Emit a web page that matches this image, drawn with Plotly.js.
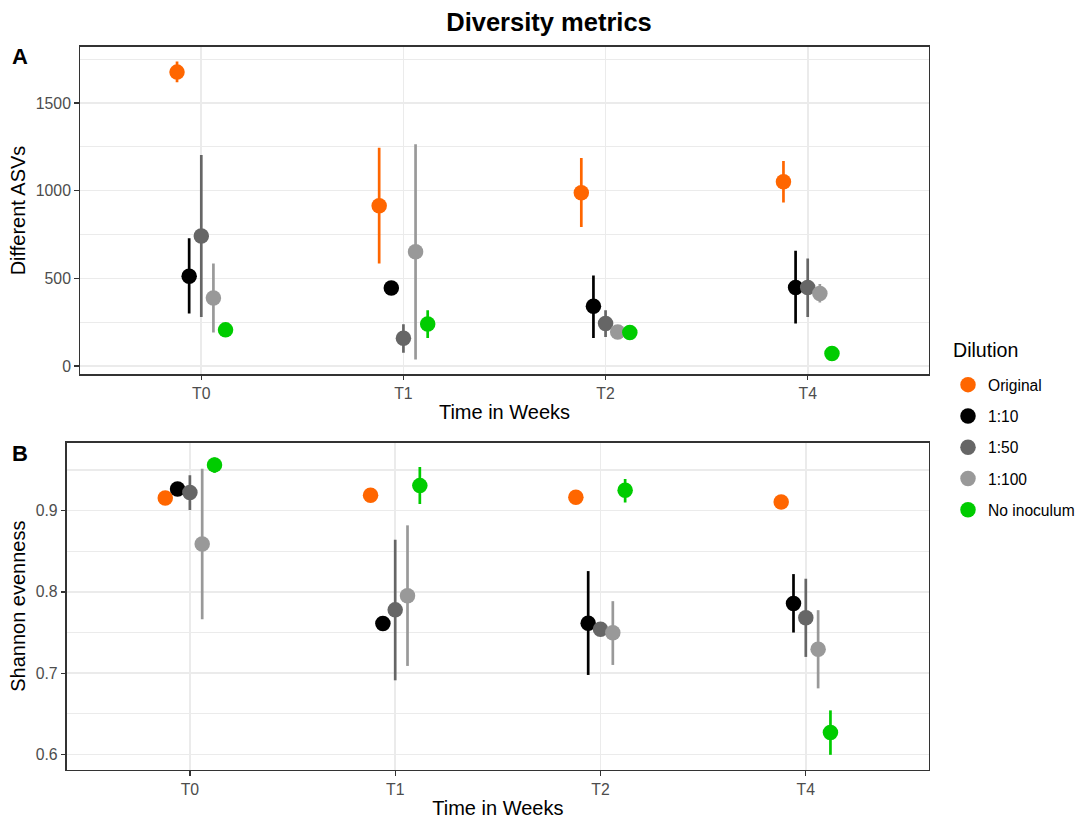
<!DOCTYPE html>
<html>
<head>
<meta charset="utf-8">
<script src="https://cdn.plot.ly/plotly-3.0.1.min.js"></script>
<style>html,body{margin:0;padding:0;background:#fff;}#chart{width:1085px;height:823px;}</style>
</head>
<body>
<div id="chart"></div>
<script>
// ---- data ----
const timepoints = ["T0", "T1", "T2", "T4"];
const dilutions = ["Original", "1:10", "1:50", "1:100", "No inoculum"];

// Panel A: Different ASVs (mean, lower, upper)
const asv_Original_mean = [1676, 914, 988, 1051];
const asv_Original_lo   = [1618, 585, 792, 933];
const asv_Original_hi   = [1736, 1245, 1186, 1169];
const asv_1to10_mean = [512, 445, 341, 448];
const asv_1to10_lo   = [299, 420, 160, 242];
const asv_1to10_hi   = [729, 470, 516, 657];
const asv_1to50_mean = [741, 158, 242, 448];
const asv_1to50_lo   = [280, 76, 166, 280];
const asv_1to50_hi   = [1203, 238, 318, 613];
const asv_1to100_mean = [388, 651, 194, 413];
const asv_1to100_lo   = [191, 37, 175, 362];
const asv_1to100_hi   = [585, 1264, 213, 467];
const asv_NoInoc_mean = [206, 240, 191, 71];
const asv_NoInoc_lo   = [190, 160, 175, 55];
const asv_NoInoc_hi   = [222, 318, 207, 87];

// Panel B: Shannon evenness (mean, lower, upper)
const even_Original_mean = [0.9156, 0.9189, 0.9164, 0.9107];
const even_Original_lo   = [0.9126, 0.9159, 0.9134, 0.9077];
const even_Original_hi   = [0.9186, 0.9219, 0.9194, 0.9137];
const even_1to10_mean = [0.9267, 0.7611, 0.7615, 0.7857];
const even_1to10_lo   = [0.9230, 0.7580, 0.6978, 0.7500];
const even_1to10_hi   = [0.9300, 0.7640, 0.8256, 0.8219];
const even_1to50_mean = [0.9222, 0.7779, 0.7541, 0.7681];
const even_1to50_lo   = [0.9008, 0.6912, 0.7500, 0.7200];
const even_1to50_hi   = [0.9436, 0.8642, 0.7580, 0.8162];
const even_1to100_mean = [0.8589, 0.7952, 0.7496, 0.7294];
const even_1to100_lo   = [0.7664, 0.7089, 0.7101, 0.6813];
const even_1to100_hi   = [0.9514, 0.8819, 0.7886, 0.7775];
const even_NoInoc_mean = [0.9563, 0.9308, 0.9251, 0.6271];
const even_NoInoc_lo   = [0.9465, 0.9082, 0.9099, 0.5995];
const even_NoInoc_hi   = [0.9653, 0.9538, 0.9390, 0.6542];

const colors = ["#FF6600", "#000000", "#666666", "#999999", "#00CC00"];

// ---- build traces ----
const asvSeries = [
  [asv_Original_mean, asv_Original_lo, asv_Original_hi],
  [asv_1to10_mean, asv_1to10_lo, asv_1to10_hi],
  [asv_1to50_mean, asv_1to50_lo, asv_1to50_hi],
  [asv_1to100_mean, asv_1to100_lo, asv_1to100_hi],
  [asv_NoInoc_mean, asv_NoInoc_lo, asv_NoInoc_hi]
];
const evenSeries = [
  [even_Original_mean, even_Original_lo, even_Original_hi],
  [even_1to10_mean, even_1to10_lo, even_1to10_hi],
  [even_1to50_mean, even_1to50_lo, even_1to50_hi],
  [even_1to100_mean, even_1to100_lo, even_1to100_hi],
  [even_NoInoc_mean, even_NoInoc_lo, even_NoInoc_hi]
];

const dodgeStep = 0.06; // position_dodge spacing between groups
const nG = dilutions.length;

function makeTrace(series, gi, xa, ya, showLegend) {
  const mean = series[0], lo = series[1], hi = series[2];
  const xs = timepoints.map((t, ti) => ti + (gi - (nG - 1) / 2) * dodgeStep);
  return {
    type: "scatter",
    mode: "markers",
    x: xs,
    y: mean,
    xaxis: xa,
    yaxis: ya,
    name: dilutions[gi],
    legendgroup: dilutions[gi],
    showlegend: showLegend,
    marker: { color: colors[gi], size: 15.5, line: { width: 0 } },
    error_y: {
      type: "data",
      symmetric: false,
      array: mean.map((m, i) => hi[i] - m),
      arrayminus: mean.map((m, i) => m - lo[i]),
      color: colors[gi],
      thickness: 2.7,
      width: 0
    },
    hoverinfo: "name+y"
  };
}

const traces = [];
asvSeries.forEach((s, gi) => traces.push(makeTrace(s, gi, "x", "y", true)));
evenSeries.forEach((s, gi) => traces.push(makeTrace(s, gi, "x2", "y2", false)));

const FONT = "Liberation Sans, Arial, Helvetica, sans-serif";
const tickFont = { family: FONT, size: 15.8, color: "#4D4D4D" };
const titleFont = { family: FONT, size: 20, color: "#000000" };

function xAxis(domain, anchor) {
  return {
    domain: domain, anchor: anchor,
    range: [-0.6, 3.6],
    tickmode: "array", tickvals: [0, 1, 2, 3], ticktext: timepoints,
    showgrid: true, gridcolor: "#EBEBEB", gridwidth: 1.6,
    zeroline: false, showline: true, mirror: true,
    linecolor: "#333333", linewidth: 1.4,
    ticks: "outside", ticklen: 4.5, tickcolor: "#333333", tickwidth: 1.3,
    tickfont: tickFont,
    automargin: false,
    title: { text: "Time in Weeks", font: titleFont, standoff: 4 }
  };
}
function yAxis(domain, anchor, range, tick0, dtick, minorDtick, title) {
  return {
    domain: domain, anchor: anchor,
    range: range,
    tick0: tick0, dtick: dtick,
    showgrid: true, gridcolor: "#EBEBEB", gridwidth: 1.6,
    minor: { showgrid: true, tick0: tick0, dtick: minorDtick, gridcolor: "#EBEBEB", gridwidth: 1.1, ticks: "" },
    zeroline: false, showline: true, mirror: true,
    linecolor: "#333333", linewidth: 1.4,
    ticks: "outside", ticklen: 4.5, tickcolor: "#333333", tickwidth: 1.3,
    tickfont: tickFont,
    automargin: false,
    title: { text: title, font: titleFont, standoff: 4 }
  };
}

const W = 1085, H = 823;
const layout = {
  width: W, height: H,
  margin: { l: 0, r: 0, t: 0, b: 0, pad: 0 },
  paper_bgcolor: "#FFFFFF",
  plot_bgcolor: "#FFFFFF",
  font: { family: FONT, color: "#000000" },
  title: {
    text: "Diversity metrics",
    font: { family: FONT, size: 25.5, weight: "bold", color: "#000000" },
    x: 549 / W, xanchor: "center", xref: "paper",
    y: 1 - 22 / H, yanchor: "middle", yref: "container"
  },
  xaxis: xAxis([80 / W, 929 / W], "y"),
  yaxis: yAxis([1 - 374.3 / H, 1 - 46.7 / H], "x", [-47.4, 1821], 0, 500, 250, "Different ASVs"),
  xaxis2: xAxis([66.7 / W, 929 / W], "y2"),
  yaxis2: yAxis([1 - 769.7 / H, 1 - 442.7 / H], "x2", [0.5812, 0.9836], 0.6, 0.1, 0.05, "Shannon evenness"),
  showlegend: true,
  legend: {
    x: 948 / W, xanchor: "left",
    y: 1 - 368 / H, yanchor: "top",
    traceorder: "grouped",
    tracegroupgap: 8,
    font: { family: FONT, size: 15.6, color: "#000000" },
    bgcolor: "rgba(0,0,0,0)",
    itemclick: false
  },
  annotations: [
    { text: "A", x: 19.7 / W, y: 1 - 56 / H, xref: "paper", yref: "paper", showarrow: false,
      xanchor: "center", yanchor: "middle", font: { family: FONT, size: 22, weight: "bold", color: "#000000" } },
    { text: "B", x: 19.7 / W, y: 1 - 453 / H, xref: "paper", yref: "paper", showarrow: false,
      xanchor: "center", yanchor: "middle", font: { family: FONT, size: 22, weight: "bold", color: "#000000" } },
    { text: "Dilution", x: 950.7 / W, y: 1 - 350 / H, xref: "paper", yref: "paper", showarrow: false,
      xanchor: "left", yanchor: "middle", font: { family: FONT, size: 19.6, color: "#000000" } }
  ]
};

Plotly.newPlot("chart", traces, layout, { displayModeBar: false, staticPlot: true });
</script>
</body>
</html>
